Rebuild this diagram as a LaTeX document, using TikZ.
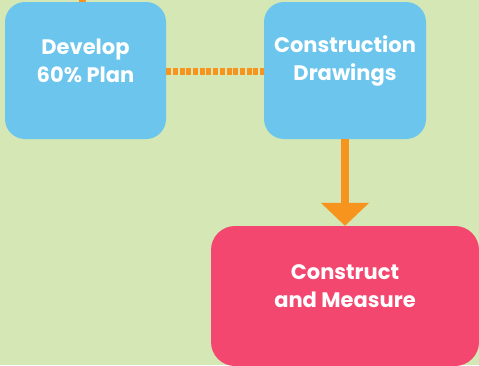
\documentclass[tikz,border=0pt]{standalone}
\usepackage{fontspec}
\setmainfont{Poppins}
\usetikzlibrary{arrows.meta}
\definecolor{bg}{HTML}{D4E7B5}
\definecolor{boxblue}{HTML}{6CC5EC}
\definecolor{boxpink}{HTML}{F44770}
\definecolor{arrorange}{HTML}{F7941D}
\tikzset{
  stepbox/.style={fill=boxblue, rounded corners=20pt, draw=none, inner sep=0pt},
  pinkbox/.style={stepbox, fill=boxpink, rounded corners=24pt},
  label/.style={text=white, font=\fontsize{21}{28}\selectfont\bfseries, align=center},
}
\begin{document}
\begin{tikzpicture}[x=1pt,y=-1pt]
\useasboundingbox (0,0) rectangle (479,365);
\fill[bg] (0,0) rectangle (479,365);
% top stub
\coordinate (top) at (82,0);
% boxes
\node[stepbox, minimum width=161pt, minimum height=137pt] (dev) at (85.5,70.5) {};
\node[stepbox, minimum width=162pt, minimum height=137pt] (cd) at (345,70.5) {};
\node[pinkbox, minimum width=268pt, minimum height=140pt] (cm) at (345,296) {};
\node[label] (devt) at (85.5,61) {Develop\\60\% Plan};
\node[label] (cdt) at (345,61) {Construction\\Drawings};
\node[label] (cmt) at (345,286) {Construct\\and Measure};
% connectors
\draw[arrorange, line width=7pt] (top) -- (dev.north -| top);
\draw[arrorange, line width=7pt, dash pattern=on 5pt off 1.7pt] ([yshift=-0.5pt]dev.east) -- ([yshift=-0.5pt]cd.west);
\draw[arrorange, line width=8pt, -{Triangle[width=47pt,length=23pt]}] (cd.south) -- (cm.north);
\end{tikzpicture}
\end{document}
